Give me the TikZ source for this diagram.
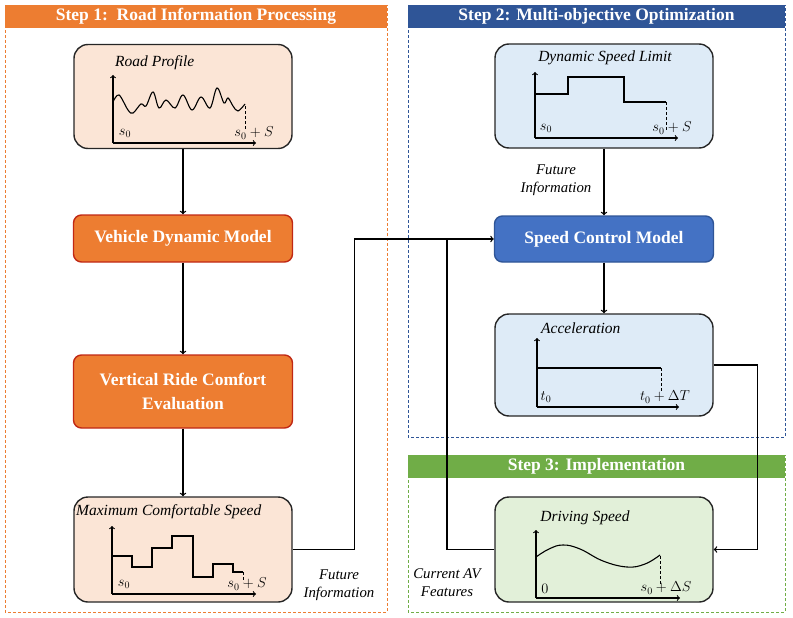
\documentclass[tikz,border=0pt]{standalone}
\usepackage{fontspec}
\setmainfont{Liberation Serif}
\usetikzlibrary{positioning}
\definecolor{stepor}{RGB}{237,125,49}
\definecolor{stepbl}{RGB}{47,85,151}
\definecolor{stepgr}{RGB}{112,173,71}
\definecolor{boxor}{RGB}{237,125,49}
\definecolor{edgeor}{RGB}{192,40,20}
\definecolor{boxbl}{RGB}{68,114,196}
\definecolor{edgebl}{RGB}{47,85,151}
\definecolor{lightor}{RGB}{251,229,214}
\definecolor{lightbl}{RGB}{222,235,247}
\definecolor{lightgr}{RGB}{226,240,217}

\begin{document}
\begin{tikzpicture}[x = 1pt, y = -1pt, >= to,
        steptitle/.style = {minimum height = 23pt, inner sep = 0pt, text = white,
            font = \fontsize{17.5}{20}\selectfont\bfseries},
        model/.style = {draw, rounded corners = 8pt, line width = 1.4pt, text = white, align = center,
            minimum width = 219pt, font = \fontsize{17.5}{24}\selectfont\bfseries},
        chart/.style = {draw = black!85, rounded corners = 14pt, line width = 1.4pt,
            minimum width = 218pt, minimum height = 104pt},
        caption/.style = {font = \fontsize{15.5}{17}\selectfont\itshape, inner sep = 1pt},
        note/.style = {font = \fontsize{14.8}{18}\selectfont\itshape, align = center, inner sep = 1pt},
        axis/.style = {->, line width = 1.1pt},
        curve/.style = {line width = 1.1pt},
        drop/.style = {densely dashed, line width = 0.7pt},
        tick/.style = {font = \fontsize{14.5}{16}\selectfont, inner sep = 1pt},
        link/.style = {line width = 1.3pt}]
    \useasboundingbox (0,0) rectangle (793,618);

    % panels
    \draw [stepor, densely dashed, line width = 0.9pt] (5,5) rectangle (387,612);
    \draw [stepbl, densely dashed, line width = 0.9pt] (408,5) rectangle (785,437);
    \draw [stepgr, densely dashed, line width = 0.9pt] (408,455) rectangle (785,612);
    \node [steptitle, fill = stepor, minimum width = 382pt] (step1) at (196,16.5) {Step 1:\ \ Road Information Processing};
    \node [steptitle, fill = stepbl, minimum width = 377pt] (step2) at (596.5,16.5) {Step 2: Multi-objective Optimization};
    \node [steptitle, fill = stepgr, minimum width = 377pt] (step3) at (596.5,466.5) {Step 3: Implementation};

    % boxes
    \node [chart, fill = lightor] (road) at (183,96.5) {};
    \node [model, fill = boxor, draw = edgeor, minimum height = 47pt] (vdm) at (183,238.5) {Vehicle Dynamic Model};
    \node [model, fill = boxor, draw = edgeor, minimum height = 73pt] (vrce) at (183,391.5) {Vertical Ride Comfort\\Evaluation};
    \node [chart, fill = lightor, minimum height = 105pt] (mcs) at (183,549.5) {};
    \node [chart, fill = lightbl] (dsl) at (604,96) {};
    \node [model, fill = boxbl, draw = edgebl, minimum height = 46pt] (scm) at (604,239) {Speed Control Model};
    \node [chart, fill = lightbl, minimum height = 102pt] (acc) at (604,365) {};
    \node [chart, fill = lightgr, minimum height = 105pt] (drv) at (604,549.5) {};

    % road profile
    \node [caption, anchor = west] (roadcap) at (114,63) {Road Profile};
    \draw [axis] (113,143) -- (113,75);
    \draw [axis] (113,143) -- (256,143);
    \draw [curve] plot [smooth, tension = 0.6] coordinates {(113,102) (119,95) (128,110) (133,113)
        (141,104) (146,106) (153,92) (159,108) (166,100) (175,108) (183,95) (192,110)
        (201,97) (210,108) (217,88) (224,103) (228,98) (233,106) (238,111) (245,104)};
    \draw [drop] (245,106) -- (245,129);
    \node [tick] (roads0) at (125,133) {$s_0$};
    \node [tick] (roadsS) at (254,133) {$s_0 + S$};

    % maximum comfortable speed
    \node [caption, anchor = west] (mcscap) at (75,512) {Maximum Comfortable Speed};
    \draw [axis] (112,594) -- (112,526);
    \draw [axis] (112,594) -- (256,594);
    \draw [curve] (112,556) -- (132,556) -- (132,567) -- (152,567) -- (152,548) -- (172,548)
        -- (172,536) -- (193,536) -- (193,577) -- (213,577) -- (213,564) -- (233,564)
        -- (233,572) -- (243,572);
    \draw [drop] (243,572) -- (243,582);
    \node [tick] (mcss0) at (124,584) {$s_0$};
    \node [tick] (mcssS) at (247,584) {$s_0 + S$};

    % dynamic speed limit
    \node [caption] (dslcap) at (605,58) {Dynamic Speed Limit};
    \draw [axis] (535,138) -- (535,72);
    \draw [axis] (535,138) -- (678,138);
    \draw [curve] (535,94) -- (568,94) -- (568,77) -- (624,77) -- (624,102) -- (666,102);
    \draw [drop] (666,102) -- (666,130);
    \node [tick] (dsls0) at (546,128) {$s_0$};
    \node [tick] (dslsS) at (672,128) {$s_0 + S$};

    % acceleration
    \node [caption, anchor = west] (acccap) at (540,328) {Acceleration};
    \draw [axis] (537,407) -- (537,338);
    \draw [axis] (537,407) -- (679,407);
    \draw [curve] (537,368) -- (661,368);
    \draw [drop] (661,368) -- (661,391);
    \node [tick] (acct0) at (546,397) {$t_0$};
    \node [tick] (acctT) at (665,397) {$t_0 + \Delta T$};

    % driving speed
    \node [caption] (drvcap) at (585,518) {Driving Speed};
    \draw [axis] (536,598) -- (536,530);
    \draw [axis] (536,598) -- (680,598);
    \draw [curve] plot [smooth, tension = 0.7] coordinates {(536,557) (549,549) (563,545)
        (580,549) (603,561) (627,567) (645,564) (660,555)};
    \draw [drop] (660,556) -- (660,584);
    \node [tick] (drv0) at (545,589) {$0$};
    \node [tick] (drvsS) at (666,588) {$s_0 + \Delta S$};

    % connectors
    \path [->]
        (road) edge [link] (vdm)
        (vdm) edge [link] (vrce)
        (vrce) edge [link] (mcs)
        (dsl) edge [link] (scm)
        (scm) edge [link] (acc);
    \coordinate (join) at (447,239);
    \draw [->, link] (mcs.east) -- ++(62,0) |- (scm.west);
    \draw [->, link] (acc.east) -- ++(44,0) |- (drv.east);
    \draw [link] (drv.west) -| (join);

    \node [note] (futA) at (556,180) {Future\\Information};
    \node [note] (futB) at (339,585) {Future\\Information};
    \node [note] (avf) at (447,583) {Current AV\\Features};
\end{tikzpicture}
\end{document}
